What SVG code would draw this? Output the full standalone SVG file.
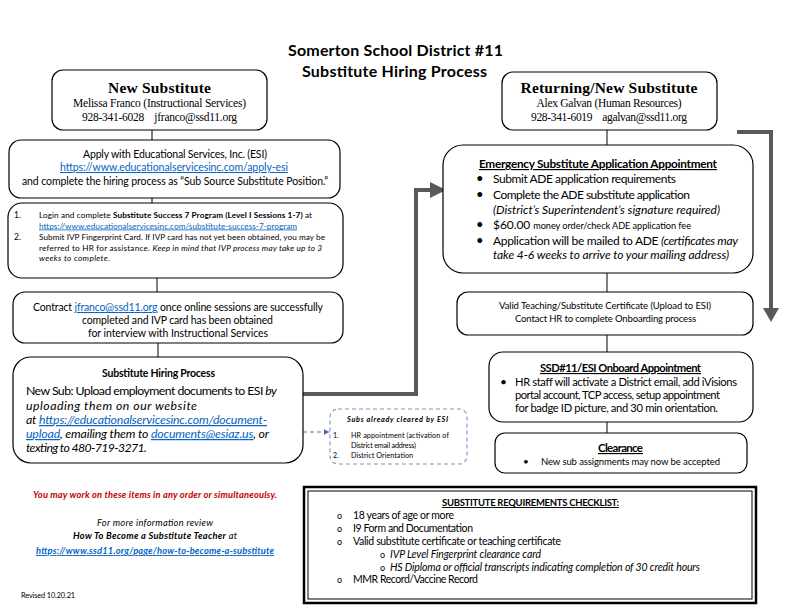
<svg xmlns="http://www.w3.org/2000/svg" width="792" height="612" viewBox="0 0 792 612">
<style>
.box{fill:#fff;stroke:#000;stroke-width:1.2}
.s{font-family:Lato,"Liberation Sans",sans-serif;fill:#000}
.r{font-family:"Liberation Serif","Times New Roman",serif;fill:#000}
.m{text-anchor:middle}
.b{font-weight:bold}
.i{font-style:italic}
.u{text-decoration:underline}
.lk{fill:#0563c1;text-decoration:underline}
.conn{fill:none;stroke:#000;stroke-width:1}
.thick{fill:none;stroke:#595959;stroke-width:4}
</style>
<defs>
<marker id="dh" viewBox="0 0 10 10" refX="9" refY="5" markerWidth="6" markerHeight="6" orient="auto" markerUnits="userSpaceOnUse">
<path d="M0,0 L10,5 L0,10 z" fill="#4a6fb5"/>
</marker>
</defs>
<rect width="792" height="612" fill="#fff"/>

<g id="title">
<text class="s b m" x="395.5" y="56" font-size="16" textLength="215">Somerton School District #11</text>
<text class="s b m" x="394.5" y="77" font-size="16" textLength="185">Substitute Hiring Process</text>
</g>

<g id="connectors">
<line class="conn" x1="152" y1="130" x2="152" y2="140"/>
<line class="conn" x1="152" y1="198" x2="152" y2="203"/>
<line class="conn" x1="157" y1="278" x2="157" y2="292"/>
<line class="conn" x1="158" y1="343" x2="158" y2="357"/>
<line class="conn" x1="607" y1="130" x2="607" y2="145"/>
<line class="conn" x1="607" y1="273" x2="607" y2="292"/>
<line class="conn" x1="607" y1="335" x2="607" y2="352"/>
<line class="conn" x1="607" y1="422" x2="607" y2="433"/>
<line x1="303" y1="432" x2="329" y2="432" stroke="#4a6fb5" stroke-width="1.2" stroke-dasharray="4 3" marker-end="url(#dh)"/>
<polyline class="thick" points="303,394 416,394 416,190 432,190"/>
<polygon points="430,182 446,190 430,198" fill="#595959"/>
<polyline class="thick" points="737,132 771,132 771,310"/>
<polygon points="763,308 779,308 771,322" fill="#595959"/>
</g>

<g id="new-substitute">
<rect class="box" x="52" y="70" width="215" height="60" rx="11"/>
<text class="r b m" x="159.5" y="93" font-size="15.5" textLength="103">New Substitute</text>
<text class="r m" x="159.5" y="107" font-size="11.5" textLength="173">Melissa Franco (Instructional Services)</text>
<text class="r m" x="159.5" y="121" font-size="11.5" textLength="155" xml:space="preserve">928-341-6028    jfranco@ssd11.org</text>
</g>

<g id="returning-substitute">
<rect class="box" x="502" y="72" width="215" height="58" rx="11"/>
<text class="r b m" x="609" y="93" font-size="15.5" textLength="177">Returning/New Substitute</text>
<text class="r m" x="609" y="107" font-size="11.5" textLength="145">Alex Galvan (Human Resources)</text>
<text class="r m" x="609" y="121" font-size="11.5" textLength="156" xml:space="preserve">928-341-6019    agalvan@ssd11.org</text>
</g>

<g id="apply-esi">
<rect class="box" x="9" y="140" width="331" height="58" rx="12"/>
<text class="s m" x="175" y="158" font-size="10.5" textLength="184">Apply with Educational Services, Inc. (ESI)</text>
<text class="s m lk" x="174" y="171" font-size="10.5" textLength="228">https://www.educationalservicesinc.com/apply-esi</text>
<text class="s m" x="175" y="185" font-size="10.5" textLength="306">and complete the hiring process as “Sub Source Substitute Position.”</text>
</g>

<g id="login-steps">
<rect class="box" x="8" y="203" width="335" height="75" rx="14"/>
<text class="s" x="14" y="218" font-size="8.5">1.</text>
<text class="s" x="39" y="218" font-size="8.2" textLength="273">Login and complete <tspan class="b">Substitute Success 7 Program (Level I Sessions 1-7)</tspan> at</text>
<text class="s lk" x="39" y="228.5" font-size="8.2" textLength="258">https://www.educationalservicesinc.com/substitute-success-7-program</text>
<text class="s" x="14" y="240" font-size="8.5">2.</text>
<text class="s" x="39" y="240" font-size="8.2" textLength="286">Submit IVP Fingerprint Card. If IVP card has not yet been obtained, you may be</text>
<text class="s" x="39" y="250.5" font-size="8.2" textLength="283">referred to HR for assistance. <tspan class="i">Keep in mind that IVP process may take up to 3</tspan></text>
<text class="s" x="39" y="261" font-size="8.2" textLength="71"><tspan class="i">weeks to complete</tspan>.</text>
</g>

<g id="contract">
<rect class="box" x="13" y="292" width="330" height="51" rx="12"/>
<text class="s m" x="178" y="311" font-size="10.5" textLength="290">Contract <tspan class="lk">jfranco@ssd11.org</tspan> once online sessions are successfully</text>
<text class="s m" x="177.5" y="323.5" font-size="10.5" textLength="191">completed and IVP card has been obtained</text>
<text class="s m" x="178" y="337" font-size="10.5" textLength="180">for interview with Instructional Services</text>
</g>

<g id="hiring-process">
<rect class="box" x="13" y="357" width="290" height="106" rx="18"/>
<text class="s b m" x="158.5" y="377" font-size="10.5" textLength="113">Substitute Hiring Process</text>
<text class="s" x="26" y="395" font-size="12.3" textLength="251">New Sub: Upload employment documents to ESI <tspan class="i">by</tspan></text>
<text class="s i" x="26" y="409.5" font-size="12.3" textLength="171">uploading them on our website</text>
<text class="s i" x="26" y="424" font-size="12.3" textLength="241">at <tspan class="lk">https://educationalservicesinc.com/document-</tspan></text>
<text class="s i" x="26" y="438" font-size="12.3" textLength="243"><tspan class="lk">upload</tspan>, emailing them to <tspan class="lk">documents@esiaz.us</tspan>, or</text>
<text class="s i" x="26" y="452" font-size="12.3" textLength="121">texting to 480-719-3271.</text>
</g>

<g id="already-cleared">
<rect x="330" y="409" width="137" height="55" rx="8" fill="#fff" stroke="#7f93c7" stroke-width="1.1" stroke-dasharray="4 3"/>
<text class="s b i m" x="397.5" y="422" font-size="7.3" textLength="101">Subs already cleared by ESI</text>
<text class="s" x="333" y="438" font-size="7">1.</text>
<text class="s" x="351" y="438" font-size="7.2" textLength="98">HR appointment (activation of</text>
<text class="s" x="351" y="447.5" font-size="7.2" textLength="65">District email address)</text>
<text class="s" x="333" y="458" font-size="7">2.</text>
<text class="s" x="351" y="458" font-size="7.2" textLength="62">District Orientation</text>
</g>

<g id="emergency-appointment">
<rect class="box" x="443" y="145" width="310" height="128" rx="20"/>
<text class="s b m u" x="598" y="168" font-size="11.8" textLength="238">Emergency Substitute Application Appointment</text>
<text class="s" x="476" y="183" font-size="13">•</text>
<text class="s" x="493" y="183" font-size="12" textLength="183">Submit ADE application requirements</text>
<text class="s" x="476" y="199" font-size="13">•</text>
<text class="s" x="493" y="199" font-size="12" textLength="197">Complete the ADE substitute application</text>
<text class="s i" x="493" y="214" font-size="12" textLength="227">(District’s Superintendent’s signature required)</text>
<text class="s" x="476" y="229" font-size="13">•</text>
<text class="s" x="493" y="229" font-size="12" textLength="198">$60.00 <tspan font-size="9.2">money order/check ADE application fee</tspan></text>
<text class="s" x="476" y="245" font-size="13">•</text>
<text class="s" x="493" y="245" font-size="12" textLength="245">Application will be mailed to ADE <tspan class="i">(certificates may</tspan></text>
<text class="s i" x="493" y="259" font-size="12" textLength="236">take 4-6 weeks to arrive to your mailing address)</text>
</g>

<g id="valid-certificate">
<rect class="box" x="457" y="292" width="296" height="43" rx="11"/>
<text class="s m" x="605" y="309" font-size="9.5" textLength="212">Valid Teaching/Substitute Certificate (Upload to ESI)</text>
<text class="s m" x="605.5" y="321.5" font-size="9.5" textLength="181">Contact HR to complete Onboarding process</text>
</g>

<g id="onboard-appointment">
<rect class="box" x="489" y="352" width="264" height="70" rx="14"/>
<text class="s b m u" x="620.5" y="372" font-size="11.2" textLength="161">SSD#11/ESI Onboard Appointment</text>
<text class="s" x="500" y="386" font-size="12">•</text>
<text class="s" x="515" y="386" font-size="11.2" textLength="222">HR staff will activate a District email, add iVisions</text>
<text class="s" x="515" y="399" font-size="11.2" textLength="205">portal account, TCP access, setup appointment</text>
<text class="s" x="515" y="412" font-size="11.2" textLength="203">for badge ID picture, and 30 min orientation.</text>
</g>

<g id="clearance">
<rect class="box" x="495" y="433" width="252" height="40" rx="10"/>
<text class="s b m u" x="620.5" y="452" font-size="11.5" textLength="45">Clearance</text>
<text class="s" x="523" y="465" font-size="10">•</text>
<text class="s" x="541" y="465" font-size="9.5" textLength="179">New sub assignments may now be accepted</text>
</g>

<g id="checklist">
<rect x="304" y="487" width="452" height="116" fill="#fff" stroke="#000" stroke-width="2.5"/>
<rect x="308" y="491" width="444" height="108" fill="none" stroke="#000" stroke-width="1"/>
<text class="s b m u" x="530.5" y="506" font-size="9.5" textLength="177">SUBSTITUTE REQUIREMENTS CHECKLIST:</text>
<text class="s" x="337" y="519" font-size="9">o</text>
<text class="s" x="353" y="519" font-size="10.5" textLength="101">18 years of age or more</text>
<text class="s" x="337" y="532" font-size="9">o</text>
<text class="s" x="353" y="532" font-size="10.5" textLength="120">I9 Form and Documentation</text>
<text class="s" x="337" y="545" font-size="9">o</text>
<text class="s" x="353" y="545" font-size="10.5" textLength="208">Valid substitute certificate or teaching certificate</text>
<text class="s" x="380" y="558" font-size="9">o</text>
<text class="s i" x="390" y="558" font-size="10.5" textLength="151">IVP Level Fingerprint clearance card</text>
<text class="s" x="380" y="571" font-size="9">o</text>
<text class="s i" x="390" y="571" font-size="10.5" textLength="310">HS Diploma or official transcripts indicating completion of 30 credit hours</text>
<text class="s" x="337" y="583" font-size="9">o</text>
<text class="s" x="353" y="583" font-size="10.5" textLength="125">MMR Record/Vaccine Record</text>
</g>

<g id="notes">
<text class="s b i m" x="155" y="498" font-size="9.3" style="fill:#c00000" textLength="244">You may work on these items in any order or simultaneoulsy.</text>
<text class="s i m" x="155" y="526" font-size="9.3" textLength="116">For more information review</text>
<text class="s i m" x="155" y="539" font-size="9.3" textLength="164"><tspan class="b">How To Become a Substitute Teacher</tspan> at</text>
<text class="s b i m lk" x="155" y="554" font-size="9.3" textLength="238">https://www.ssd11.org/page/how-to-become-a-substitute</text>
<text class="s" x="21" y="598" font-size="7.3" textLength="54">Revised 10.20.21</text>
</g>
</svg>
